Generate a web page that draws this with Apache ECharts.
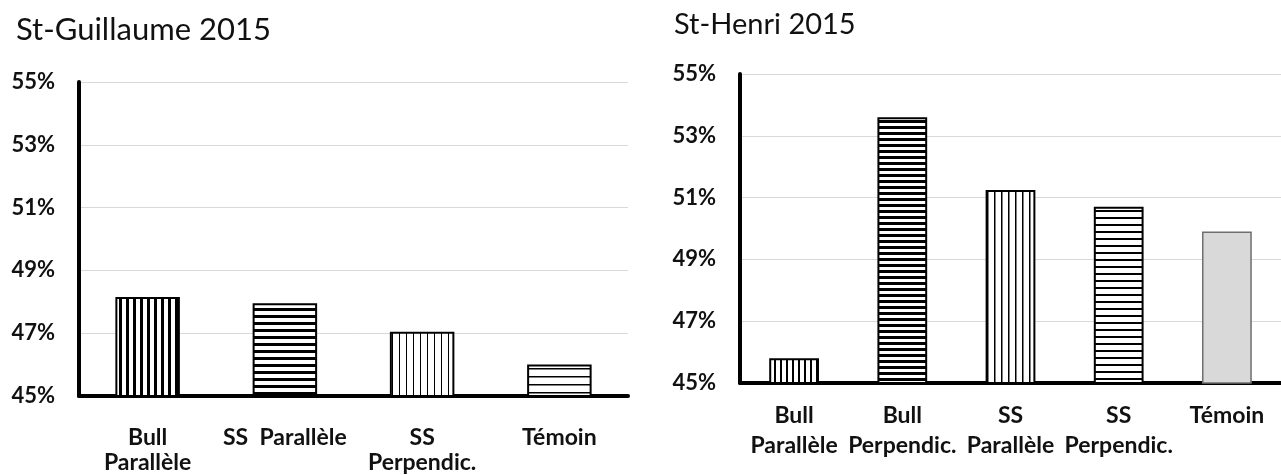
<!DOCTYPE html>
<html>
<head>
<meta charset="utf-8">
<script src="https://cdn.jsdelivr.net/npm/echarts@6/dist/echarts.min.js"></script>
<style>
html, body { margin: 0; padding: 0; background: #fff; }
#chart { width: 1281px; height: 475px; }
</style>
</head>
<body>
<div id="chart"></div>
<script>
// données
const guillaumeCats = ['Bull\nParallèle', 'SS  Parallèle', 'SS\nPerpendic.', 'Témoin'];
const guillaumeVals = [48.15, 47.95, 47.05, 46.0];
const henriCats = ['Bull\nParallèle', 'Bull\nPerpendic.', 'SS\nParallèle', 'SS\nPerpendic.', 'Témoin'];
const henriVals = [45.8, 53.6, 51.25, 50.7, 49.9];
const yTicks = [45, 47, 49, 51, 53, 55];

// motifs de hachures (canvas)
function stripes(dir, period, lw) {
  const c = document.createElement('canvas');
  c.width = period;
  c.height = period;
  const ctx = c.getContext('2d');
  ctx.fillStyle = '#fff';
  ctx.fillRect(0, 0, period, period);
  ctx.fillStyle = '#000';
  if (dir === 'v') ctx.fillRect(0, 0, lw, period);
  else ctx.fillRect(0, 0, period, lw);
  return { image: c, repeat: 'repeat' };
}

const border = { borderColor: '#000', borderWidth: 2 };
const guillaumeStyles = [
  { color: stripes('v', 7, 3), ...border },
  { color: stripes('h', 7, 3), ...border },
  { color: stripes('v', 7, 1), ...border },
  { color: stripes('h', 8, 1.5), ...border },
];
const henriStyles = [
  { color: stripes('v', 6, 2), ...border },
  { color: stripes('h', 6, 3), ...border },
  { color: stripes('v', 7, 1.5), ...border },
  { color: stripes('h', 7, 2), ...border },
  { color: '#d9d9d9', borderColor: '#6f6f6f', borderWidth: 1.5 },
];

const font = 'Lato, "Open Sans", sans-serif';

let myChart = echarts.init(document.getElementById('chart'), null, { renderer: 'canvas' });

function xAxisOf(idx, cats, margin, lineHeight) {
  return {
    type: 'category',
    gridIndex: idx,
    data: cats,
    axisTick: { show: false },
    axisLine: { show: true, lineStyle: { color: '#000', width: 4 } },
    axisLabel: {
      color: '#111',
      fontFamily: font,
      fontWeight: 'bold',
      fontSize: 23,
      lineHeight: lineHeight,
      margin: margin,
      interval: 0,
    },
  };
}

function yAxisOf(idx) {
  return {
    type: 'value',
    gridIndex: idx,
    min: yTicks[0],
    max: yTicks[yTicks.length - 1],
    interval: yTicks[1] - yTicks[0],
    axisTick: { show: false },
    axisLine: { show: true, lineStyle: { color: '#000', width: 4 } },
    splitLine: { show: true, lineStyle: { color: '#d9d9d9', width: 1 } },
    axisLabel: {
      color: '#111',
      fontFamily: font,
      fontWeight: 'bold',
      fontSize: 22,
      margin: 24,
      formatter: (v) => v + '%',
    },
  };
}

const option = {
  animation: false,
  backgroundColor: '#fff',
  title: [
    {
      text: 'St-Guillaume 2015',
      left: 11,
      top: 9,
      textStyle: { fontFamily: font, fontWeight: 'normal', fontSize: 31, color: '#111' },
    },
    {
      text: 'St-Henri 2015',
      left: 669,
      top: 5,
      textStyle: { fontFamily: font, fontWeight: 'normal', fontSize: 29, color: '#111' },
    },
  ],
  grid: [
    { left: 79, top: 82, width: 549, height: 317 },
    { left: 740, top: 74, width: 550, height: 309 },
  ],
  xAxis: [
    xAxisOf(0, guillaumeCats, 29, 25),
    xAxisOf(1, henriCats, 18, 30),
  ],
  yAxis: [yAxisOf(0), yAxisOf(1)],
  series: [
    {
      type: 'bar',
      xAxisIndex: 0,
      yAxisIndex: 0,
      barWidth: '47%',
      data: guillaumeVals.map((v, i) => ({ value: v, itemStyle: guillaumeStyles[i] })),
    },
    {
      type: 'bar',
      xAxisIndex: 1,
      yAxisIndex: 1,
      barWidth: '46%',
      data: henriVals.map((v, i) => ({ value: v, itemStyle: henriStyles[i] })),
    },
  ],
};

myChart.setOption(option, true);
</script>
</body>
</html>
